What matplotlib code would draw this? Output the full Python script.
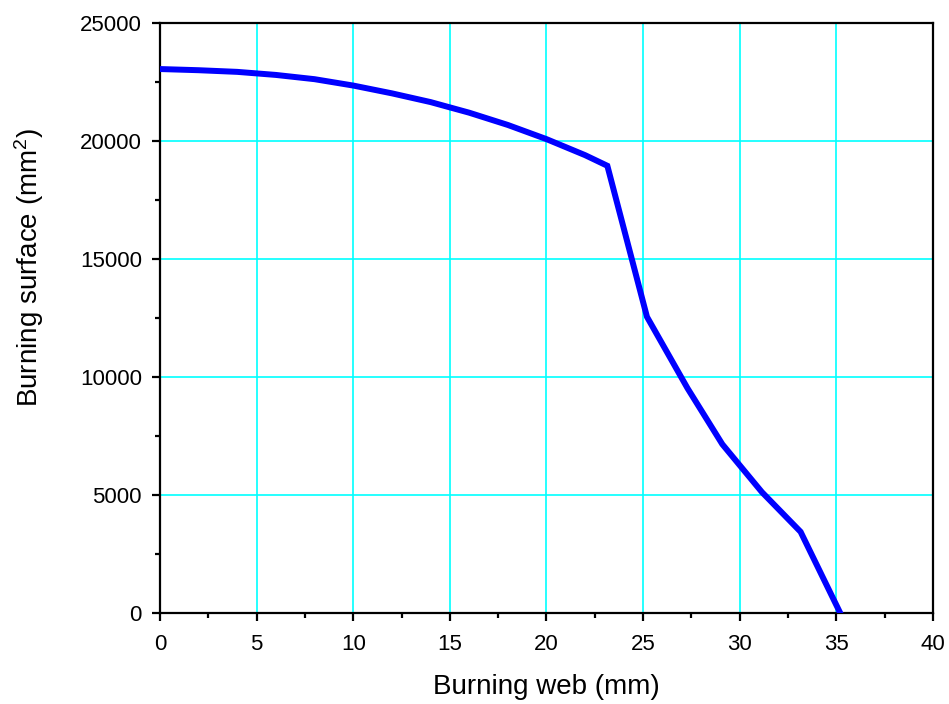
import matplotlib
matplotlib.use('Agg')
import matplotlib.pyplot as plt
from matplotlib.ticker import MultipleLocator

plt.rcParams['font.family'] = ['Liberation Sans', 'DejaVu Sans']
plt.rcParams['mathtext.fontset'] = 'custom'
plt.rcParams['mathtext.rm'] = 'Liberation Sans'
plt.rcParams['mathtext.it'] = 'Liberation Sans:italic'

# burning web (mm) vs burning surface (mm^2)
web = [0, 2, 4, 6, 8, 10, 12, 14, 16, 18, 20, 22, 23.15,
       25.2, 27.3, 29.1, 31.15, 33.15, 35.2]
surface = [23050, 23000, 22930, 22800, 22620, 22350, 22020, 21650, 21200,
           20680, 20080, 19400, 18950,
           12550, 9520, 7150, 5120, 3440, 0]

fig = plt.figure(figsize=(9.49, 7.04), dpi=100)
ax = fig.add_axes([0.1686, 0.1293, 0.8145, 0.838])

ax.plot(web, surface, color='#0000ff', lw=4.3, solid_joinstyle='miter', zorder=3)

ax.set_xlim(0, 40)
ax.set_ylim(0, 25000)
ax.xaxis.set_major_locator(MultipleLocator(5))
ax.xaxis.set_minor_locator(MultipleLocator(2.5))
ax.yaxis.set_major_locator(MultipleLocator(5000))
ax.yaxis.set_minor_locator(MultipleLocator(2500))

ax.grid(True, which='major', color='#00ffff', lw=1.2, zorder=1)
ax.set_axisbelow(True)

for s in ax.spines.values():
    s.set_linewidth(1.6)
ax.tick_params(which='major', direction='out', length=6, width=1.6,
               labelsize=16, pad=7, top=False, right=False)
ax.tick_params(axis='x', which='major', pad=9)
ax.tick_params(which='minor', direction='out', length=3.5, width=1.6,
               top=False, right=False)

ax.set_xlabel('Burning web (mm)', fontsize=20, labelpad=14)
ax.set_ylabel(r'Burning surface (mm$^2$)', fontsize=20)
# the y title sits above the axis centre in the reference
ax.yaxis.set_label_coords(-0.148, 0.586)

fig.savefig('out.png', dpi=100)
